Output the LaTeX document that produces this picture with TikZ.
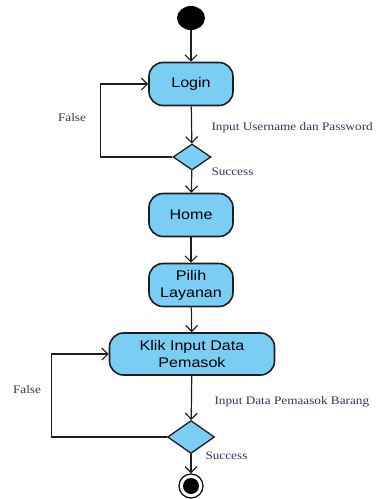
\documentclass[tikz,border=0pt]{standalone}
\usepackage{fontspec}
\usepackage{tikz}
\usetikzlibrary{arrows.meta,positioning,calc,shapes.geometric}
\newfontfamily\actfont{Liberation Sans}[FakeStretch=1.15]
\newfontfamily\labfont{Liberation Serif}[FakeStretch=1.15]
\definecolor{actfill}{RGB}{122,206,244}
\definecolor{actline}{RGB}{30,30,30}
\definecolor{labtext}{RGB}{52,52,88}
\tikzset{
  act/.style={draw=actline, line width=1.6pt, fill=actfill, rounded corners=14pt,
    minimum height=43pt, align=center, font=\actfont\fontsize{14}{16}\selectfont, inner sep=2pt},
  dec/.style={diamond, draw=actline, line width=1.3pt, fill=actfill, inner sep=0pt},
  flow/.style={-{Straight Barb[length=6pt, width=12pt]}, actline, line width=1.2pt},
  lab/.style={font=\labfont\fontsize{11.5}{14}\selectfont, text=labtext},
}
\begin{document}
\begin{tikzpicture}[x=1pt,y=1pt]
  \useasboundingbox (0,0) rectangle (377,-499);
  % start
  \node[ellipse, fill=black, minimum width=28pt, minimum height=24pt, inner sep=0pt] (start) at (191,-18) {};
  % activities
  \node[act, minimum width=84pt] (login) at (191,-84) {Login};
  \node[dec, minimum width=38pt, minimum height=26pt] (cek1) at (192,-157) {};
  \node[act, minimum width=84pt] (home) at (191,-215) {Home};
  \node[act, minimum width=84pt, font=\actfont\fontsize{14}{17}\selectfont] (pilih) at (191,-285) {Pilih\\Layanan};
  \node[act, minimum width=165pt, minimum height=42pt, font=\actfont\fontsize{14}{17}\selectfont] (klik) at (192,-354) {Klik Input Data\\Pemasok};
  \node[dec, minimum width=47pt, minimum height=33pt] (cek2) at (191,-437) {};
  % end
  \node[circle, draw=black, line width=1.2pt, minimum size=24pt, inner sep=0pt] (stop) at (191,-486) {};
  \node[circle, fill=black, minimum size=16pt, inner sep=0pt] (stopin) at (stop.center) {};
  % flows
  \draw[flow] (start) -- (login);
  \draw[flow] (login) -- (cek1);
  \draw[flow] (cek1.west) -- ++(-72,0) |- (login.west);
  \draw[flow] (cek1) -- (home);
  \draw[flow] (home) -- (pilih);
  \draw[flow] (pilih) -- (klik);
  \draw[flow] (klik) -- (cek2);
  \draw[flow] (cek2.west) -- ++(-115,0) |- (klik.west);
  \draw[flow] (cek2) -- (stop);
  % labels
  \node[lab, anchor=west] (inlogin) at (208,-128) {Input Username dan Password};
  \node[lab, anchor=west] (ok1) at (208,-172) {Success};
  \node[lab] (salah1) at (72,-118) {False};
  \node[lab, anchor=west] (indata) at (211,-402) {Input Data Pemaasok Barang};
  \node[lab, anchor=west] (ok2) at (202,-456) {Success};
  \node[lab] (salah2) at (27,-390) {False};
\end{tikzpicture}
\end{document}
